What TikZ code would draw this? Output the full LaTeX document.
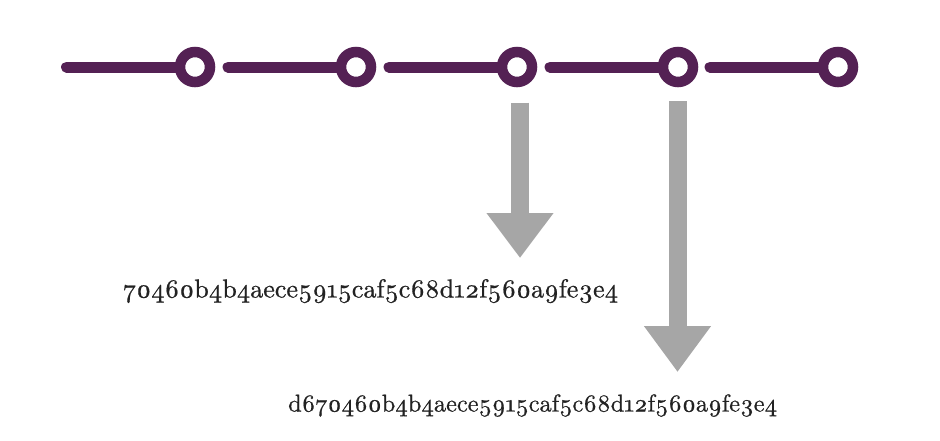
\documentclass[tikz,border=0pt]{standalone}
\usepackage{fontspec}
\setmainfont{Latin Modern Roman}[Numbers=OldStyle]
\newfontfamily\hashfont{Latin Modern Roman}[Numbers=OldStyle, FakeBold=0.7]
\usetikzlibrary{arrows.meta}
\definecolor{plum}{RGB}{84,33,84}
\definecolor{arrgray}{RGB}{166,166,166}
\definecolor{txt}{RGB}{34,34,34}
\tikzset{
  ring/.style={circle, draw=plum, line width=10.5pt, fill=white, minimum size=30pt, inner sep=0pt},
  seg/.style={draw=plum, line width=11pt, line cap=round},
  bigarrow/.style={draw=arrgray, line width=18pt, -{Triangle[width=64pt,length=45pt]}},
  hash/.style={anchor=base west, inner sep=0pt, text=txt}
}
\begin{document}
\begin{tikzpicture}[x=1pt,y=-1pt]
\useasboundingbox (0,0) rectangle (940,440);
\coordinate (s1) at (66.5,67);
\coordinate (s2) at (228,67);
\coordinate (s3) at (389,67);
\coordinate (s4) at (550,67);
\coordinate (s5) at (710,67);
\coordinate (c1p) at (195,67);
\coordinate (c2p) at (356,67);
\coordinate (c3p) at (517,67);
\coordinate (c4p) at (678,67);
\coordinate (c5p) at (838,67);
\draw[seg] (s1) -- (c1p);
\draw[seg] (s2) -- (c2p);
\draw[seg] (s3) -- (c3p);
\draw[seg] (s4) -- (c4p);
\draw[seg] (s5) -- (c5p);
\node[ring] (c1) at (c1p) {};
\node[ring] (c2) at (c2p) {};
\node[ring] (c3) at (c3p) {};
\node[ring] (c4) at (c4p) {};
\node[ring] (c5) at (c5p) {};
\coordinate (a1s) at (520,102.5);
\coordinate (a1e) at (520,258);
\coordinate (a2s) at (677.5,101);
\coordinate (a2e) at (677.5,372);
\draw[bigarrow] (a1s) -- (a1e);
\draw[bigarrow, -{Triangle[width=64pt,length=46pt]}] (a2s) -- (a2e);
\node[hash] (t1) at (123,297.5) {\resizebox{495pt}{!}{\hashfont 70460b4b4aece5915caf5c68d12f560a9fe3e4}};
\node[hash] (t2) at (288,411.5) {\resizebox{489pt}{!}{\hashfont d670460b4b4aece5915caf5c68d12f560a9fe3e4}};
\end{tikzpicture}
\end{document}
